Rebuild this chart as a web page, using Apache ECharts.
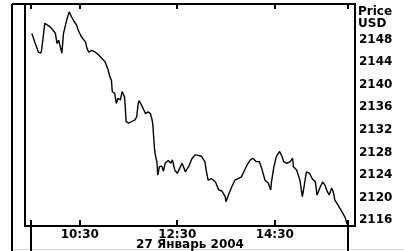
<!DOCTYPE html>
<html>
<head>
<meta charset="utf-8">
<script src="https://cdn.jsdelivr.net/npm/echarts@6/dist/echarts.min.js"></script>
<style>
html,body{margin:0;padding:0;background:#fff;}
#chart{width:404px;height:251px;}
</style>
</head>
<body>
<div id="chart"></div>
<script>
// time of day in minutes after midnight
const minutes = [571,575,579,582,583,585,587,589,593,597,600,602,604,606,608,610,614,617,620,623,626,628,630,632,634,637,639,641,645,649,653,657,661,663,665,667,669,670,673,675,677,680,682,683,685,686,687,690,694,698,700,702,703,706,709,711,714,717,719,720,721,722,723,725,726,728,731,733,735,739,742,744,747,750,753,756,760,764,768,772,776,780,784,786,788,792,797,801,805,809,810,813,817,821,825,829,832,836,840,843,847,851,854,858,862,865,866,869,872,876,879,881,885,889,892,893,897,901,904,906,909,913,916,920,922,926,929,932,934,937,940,942,944,948,950,954,957,959];
const prices = [2149.1,2147.4,2145.8,2145.6,2146.1,2148.5,2150.9,2150.6,2150.3,2149.7,2149.1,2147.3,2147.9,2147.6,2145.6,2149.1,2151.5,2152.9,2152.0,2151.2,2150.6,2149.7,2149.4,2148.5,2148.2,2147.6,2146.4,2145.8,2146.1,2145.8,2145.3,2144.7,2144.1,2143.8,2142.6,2141.4,2140.8,2138.8,2138.5,2136.7,2137.6,2137.3,2138.8,2139.1,2137.9,2136.1,2133.5,2133.2,2133.5,2133.8,2134.3,2136.7,2137.2,2136.4,2135.5,2134.9,2135.2,2134.9,2133.8,2132.9,2130.7,2128.7,2127.6,2126.3,2124.0,2125.5,2125.6,2124.7,2126.1,2126.6,2126.1,2126.7,2124.9,2124.3,2125.2,2126.1,2124.6,2125.5,2126.9,2127.6,2127.5,2127.3,2126.4,2124.6,2123.1,2123.4,2122.8,2121.4,2121.2,2120.2,2119.3,2120.5,2121.9,2123.1,2123.4,2123.7,2124.6,2125.8,2126.7,2127.0,2126.4,2126.4,2125.2,2123.1,2122.6,2121.4,2122.8,2125.5,2127.3,2128.2,2127.3,2126.4,2126.1,2126.4,2127.0,2125.5,2124.9,2123.1,2120.2,2121.9,2124.6,2124.3,2123.4,2122.8,2120.5,2121.9,2122.8,2122.2,2121.3,2120.5,2121.7,2121.1,2119.6,2118.7,2119.0,2117.2,2116.4,2115.3];
const xTickValues = [570,630,750,870,960];
const xLabelValues = [630,750,870];
const sessionBounds = [570,960];
const yLabelValues = [2116,2120,2124,2128,2132,2136,2140,2144,2148];
const xLabelName = '27 Январь 2004';
const yUnitLines = ['Price','USD'];

const FONT = 'DejaVu Sans';
const fmtTime = m => Math.floor(m/60) + ':' + String(m%60).padStart(2,'0');
const X_MIN = 562.6, X_MAX = 968.8, Y_MIN = 2115, Y_MAX = 2154.3;
const gridRect = {left:25, right:49, top:4, bottom:25, outerBoundsMode:'none', containLabel:false};

const chart = echarts.init(document.getElementById('chart'), null, {renderer:'canvas'});
chart.setOption({
  animation:false,
  backgroundColor:'#fff',
  grid:[
    Object.assign({show:true, borderColor:'#000', borderWidth:2, backgroundColor:'transparent'}, gridRect),
    Object.assign({show:false}, gridRect)
  ],
  xAxis:[
    {type:'value', gridIndex:0, position:'bottom', min:X_MIN, max:X_MAX,
     axisLine:{show:false}, splitLine:{show:false},
     axisTick:{show:true, inside:true, length:6, customValues:xTickValues, lineStyle:{color:'#000', width:2}},
     axisLabel:{show:true, customValues:xLabelValues, formatter:v=>fmtTime(v), margin:3,
       color:'#000', fontFamily:FONT, fontWeight:'bold', fontSize:12},
     name:xLabelName, nameLocation:'middle', nameGap:13, nameMoveOverlap:false,
     nameTextStyle:{color:'#000', fontFamily:FONT, fontWeight:'bold', fontSize:12, lineHeight:12, verticalAlign:'top'}},
    {type:'value', gridIndex:0, position:'top', min:X_MIN, max:X_MAX,
     axisLine:{show:false}, splitLine:{show:false},
     axisTick:{show:true, inside:true, length:5, customValues:xTickValues, lineStyle:{color:'#000', width:2}},
     axisLabel:{show:false}},
    {type:'value', gridIndex:1, position:'bottom', min:X_MIN, max:X_MAX,
     axisLine:{show:false}, splitLine:{show:false},
     axisTick:{show:true, inside:false, length:26, customValues:sessionBounds, lineStyle:{color:'#000', width:2}},
     axisLabel:{show:false}}
  ],
  yAxis:[
    {type:'value', gridIndex:0, position:'right', min:Y_MIN, max:Y_MAX,
     axisLine:{show:false}, splitLine:{show:false}, axisTick:{show:false},
     axisLabel:{show:true, customValues:yLabelValues, formatter:v=>String(v), margin:4, color:'#000',
       fontFamily:FONT, fontWeight:'bold', fontSize:12}},
    {type:'value', gridIndex:1, min:Y_MIN, max:Y_MAX, show:false}
  ],
  graphic:[
    {type:'line', shape:{x1:12, y1:4, x2:12, y2:251}, style:{stroke:'#000', lineWidth:2}},
    {type:'line', shape:{x1:12, y1:4, x2:26, y2:4}, style:{stroke:'#000', lineWidth:2}},
    {type:'line', shape:{x1:13, y1:249.5, x2:404, y2:249.5}, style:{stroke:'#d4d4d4', lineWidth:1}},
    {type:'text', left:358, top:6, style:{text:yUnitLines[0], fill:'#000', font:'bold 12px "DejaVu Sans"'}},
    {type:'text', left:358, top:18, style:{text:yUnitLines[1], fill:'#000', font:'bold 12px "DejaVu Sans"'}}
  ],
  series:[{
    type:'line', xAxisIndex:0, yAxisIndex:0, showSymbol:false, silent:true,
    lineStyle:{color:'#000', width:1.4},
    data: minutes.map((m,i)=>[m, prices[i]])
  }]
});
</script>
</body>
</html>
